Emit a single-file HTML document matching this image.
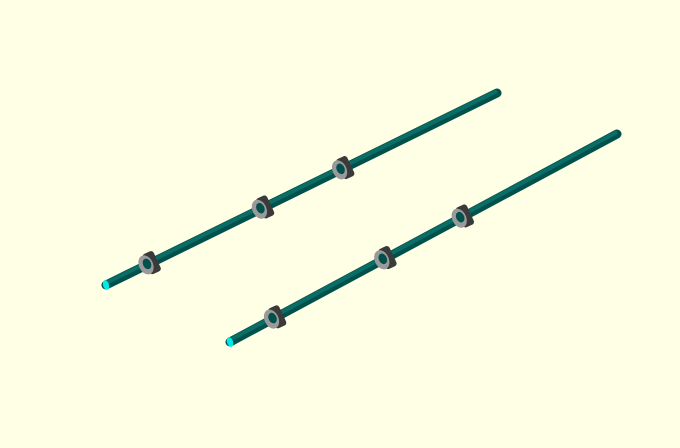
<!DOCTYPE html>
<html><head><meta charset="utf-8"><style>
html,body{margin:0;padding:0;background:#ffffe5;}
svg{display:block}
</style></head><body>
<svg id="scene" width="680" height="448" viewBox="0 0 680 448" xmlns="http://www.w3.org/2000/svg">
<rect width="680" height="448" fill="#ffffe5"/>
</svg>
<script>
const rodStartX = [106, 230];
const rodStartY = [285, 342];
const rodEndX = [497, 617];
const rodEndY = [93, 134];
const nutFractions = [[0.11, 0.40, 0.605], [0.115, 0.40, 0.60]];
const NS = 'http://www.w3.org/2000/svg';
const svg = document.getElementById('scene');
function mk(tag, attrs){const e=document.createElementNS(NS,tag);for(const k in attrs)e.setAttribute(k,attrs[k]);return e;}
for (let r = 0; r < rodStartX.length; r++) {
  const x1=rodStartX[r], y1=rodStartY[r], x2=rodEndX[r], y2=rodEndY[r];
  const g = mk('g', {});
  
  
  const ang = Math.atan2(y2-y1, x2-x1)*180/Math.PI;
  const body = mk('line',{x1,y1,x2,y2,stroke:'#00504c','stroke-width':9,'stroke-linecap':'round'});
  
  
  g.appendChild(body);
  const hl = mk('line',{x1:x1,y1:y1-2,x2:x2,y2:y2-2,stroke:'#0a6d66','stroke-width':4});
  
  
  g.appendChild(hl);
  const cap = mk('ellipse',{cx:x1,cy:y1,rx:3,ry:5,fill:'#00e8e8',transform:`rotate(${ang+10} ${x1} ${y1})`});
  
  
  g.appendChild(cap);
  nutFractions[r].forEach((f,i)=>{
    const cx=x1+(x2-x1)*f, cy=y1+(y2-y1)*f;
    const ng = mk('g',{transform:`translate(${cx} ${cy})`});
    
    
    ng.appendChild(mk('rect',{x:-3,y:-11,width:12,height:22,rx:3,fill:'#3a3a3a',transform:'rotate(-25)'}));
    ng.appendChild(mk('ellipse',{cx:-3,cy:1,rx:7,ry:10,fill:'#9a9a9a',transform:'rotate(-25 -3 1)'}));
    ng.appendChild(mk('ellipse',{cx:-2,cy:0,rx:4,ry:5.5,fill:'#00504c',transform:'rotate(-25 -2 0)'}));
    g.appendChild(ng);
  });
  svg.appendChild(g);
}
</script>
</body></html>
